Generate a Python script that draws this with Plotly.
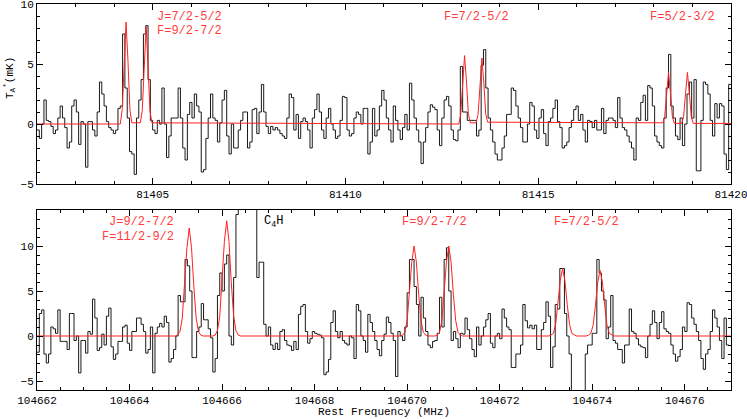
import plotly.graph_objects as go

# ---------------- data ----------------
# top spectrum (81402-81420 MHz), channel width 0.06 MHz
top_f0 = 81402.0
top_df = 0.06
top_vals = [
    -0.5, -1.2, 0, 2, 0.3, 0.2, -0.2, -0.8, -0.5, 0.5,
    1.5, 0.5, -0.3, -2, -1.5, 1.5, 2, 1, -1.7, 0.2,
    0, -3.6, 0.2, 0.2, -0.5, -1, 1, 3.5, 2.5, 1.5,
    0.2, -0.3, -0.5, -0.8, -0.5, 1.3, 1.5, 7.5, 3, 0.5,
    -2.3, -2.5, -4.2, 0.5, 2, 3.7, 7.5, 8.2, 3.7, 0.3,
    -0.5, -0.8, 0.3, 0, 3, 0, -2.8, -1, 0.5, 0.5,
    0.5, 3, 0.5, -2, -3, 0.8, 1.8, 0.5, 2.5, 1.5,
    1, -4, -3.8, -1.2, 0.5, 2.5, 0.5, 0.3, -1.5, 0.1,
    2, 2.8, -1, -2.5, 0, -2, -2, -0.5, 0.3, 1,
    1, -2, -1.5, 1.2, 1.3, -0.8, 1, 3.3, 1, -0.2,
    -0.8, -0.2, -0.5, -0.3, -0.5, -0.8, -1, -1.2, 0.5, 2.5,
    2.2, -0.5, 0.8, -1.2, 0.2, 0.5, 0.2, -0.5, -2, 0.5,
    1.2, 2.5, 1, -0.5, -1.2, 0.5, 1.3, 0, -0.5, -1.2,
    -1, 0.3, 2.3, 2.2, -0.5, -1, -0.8, 0.5, 1, 0.8,
    0, 1.3, 1.3, -2.5, -1.5, 1.3, -1, -0.5, 1.5, 2.8,
    2, 0.5, -0.5, -1.5, 1.5, 0.3, -0.5, -1.3, -0.3, 0.8,
    -0.5, 3.4, 2, 0.5, -0.5, -1.5, -3.3, -1.5, -0.3, 1,
    1.6, 1.4, 1.2, -0.5, -1.8, 0.5, 2, 2.3, 1.5, -0.5,
    -1.3, -1.4, -0.5, 4.8, 1, 1, 0.3, 0.3, 0.3, 0.3,
    -1, -0.5, 4.9, 6.2, 3, 0.5, -0.5, -1.5, -2.5, -3,
    -3, -2, -1, 0.8, 0.8, 3, 2.8, 1.5, 0.5, -0.3,
    -1.5, -1.5, 0, 1.8, 1.5, -0.5, -1.2, 0.5, 1.2, -0.8,
    -1.8, 0.2, 0.5, 1.3, 2, 0.2, -0.3, -2, -1.8, -1.5,
    -0.3, 0.3, 1.2, 1.5, 0.3, 0.8, -0.5, -1.5, 0.3, 0.2,
    -0.3, 0.3, -0.5, -0.5, 1.3, -0.8, 0.3, 0.5, 0.5, 0.3,
    -0.3, 2.2, 0.5, -0.3, -0.5, -1, -1.5, -2, -3, 0.5,
    0.3, 1.8, 2.4, 0.3, 3.2, 3, 1.5, -1, -1.5, -1.8,
    -2, 0.5, 3, 5.8, 1.5, 0.5, -1, -1.3, 0.5, -1.8,
    0, 2.5, 3.5, 0.5, 3.7, -3.9, -3.9, 0.3, 3.5, 3.3,
    2.5, 0.3, -1, 1.7, 0.5, 1.7, 1.5, -2.5, -3.8, 3.3,
]

# top model (red)
top_model_f = [
    81402.0, 81404.16, 81404.21, 81404.26, 81404.31, 81404.36, 81404.41, 81404.46,
    81404.68, 81404.73, 81404.78, 81404.83, 81404.88, 81404.93, 81404.98,
    81412.94, 81412.99, 81413.04, 81413.09, 81413.14, 81413.19, 81413.24,
    81413.39, 81413.44, 81413.49, 81413.54, 81413.59, 81413.64, 81413.69,
    81418.23, 81418.28, 81418.33, 81418.38, 81418.43, 81418.48, 81418.53,
    81418.72, 81418.77, 81418.82, 81418.87, 81418.92, 81418.97, 81419.02, 81420.0,
]
top_model_v = [
    0, 0.0, 1.2, 5.2, 8.5, 5.2, 1.2, 0.1,
    0.1, 1.1, 4.9, 8.1, 4.9, 1.1, 0.1,
    0.0, 0.8, 3.5, 5.7, 3.5, 0.8, 0.1,
    0.1, 0.8, 3.4, 5.5, 3.4, 0.8, 0.15,
    0.1, 0.6, 2.6, 4.3, 2.6, 0.6, 0.05,
    0.05, 0.6, 2.6, 4.3, 2.6, 0.6, 0.05, 0.05,
]

# bottom spectrum (104662-104677 MHz), channel width 0.05 MHz
bot_f0 = 104662.0
bot_df = 0.05
bot_vals = [
    -1.8, 2.5, 2.9, -2, -3, -2, 1, 0.8, 0.3, 2.9,
    -0.6, -0.6, -0.6, -1.5, 2.5, 2.5, -0.5, 0, -4.1, -0.5,
    -0.5, -1.9, 0.5, 0.2, 4.1, 2, -1.6, -1.3, 0.2, -1,
    2.2, 3.1, -1.2, -2.6, -2, -0.6, -0.6, 1, 1.2, -0.8,
    -1.6, 0.5, 0.5, 2, 2, 1.3, 0.5, -1.9, -1.5, 1,
    -4.1, 0.3, 1, 1.4, 1, 2.2, 1.5, -2.9, -2.5, -1.5,
    0, 4.5, 3.8, 3.8, 8.5, 7.8, 5, -2.4, -2.4, 0.5,
    1, 3.6, 1.8, 1.8, 0.8, -0.2, -4, -2.5, 4.5, 7,
    5, 8, 9, 0, -1, 6.5, 13.5, 20, 20, 20,
    20, 20, 20, 20, 20, 6.5, 8.2, 8.2, 1.3, 0,
    1, -1, -1.5, -0.8, -1.5, 0.5, 0.7, -0.5, -1, -1.1,
    -1.6, -0.6, -1.5, 2.4, 3.3, 3.5, 0.5, -0.8, -0.3, 0.5,
    0.3, 0.2, 0.1, -0.2, -4.3, -4, -2.6, 1.5, 2.8, 0.5,
    -0.2, 0.5, -0.5, -0.8, -1, 0, -0.2, -2.5, 3.5, 2.8,
    0, -0.5, -1.8, 2.4, 1.5, 0.5, -0.5, -1.5, -2.2, -0.5,
    0.2, 2.1, 1.5, 0.3, -0.5, -4.5, 0.5, 0, -0.5, 1,
    4.8, 8.5, 8.5, 5.5, 3.5, 0, 4.3, 2, 0.5, -1,
    -1.3, -0.6, -0.5, 0.3, 4.3, 1, 8.5, 9.8, 5, -0.5,
    0.5, -0.3, -1.3, 0.3, 0.2, 2, 0.7, -0.3, -1.5, -2.3,
    1, -1, 0, 1, 1.8, 2.5, -0.8, -1.3, 0, 0.3,
    -0.3, 3, 2, 1, 0.7, -3.5, -3.5, -2, -2, -1,
    3.5, 1.7, 0.9, 1.2, 0.8, 1.2, -1.5, -1.5, 0.7, 1.5,
    3.8, 2.2, -3.5, -1.2, 3.5, 3, 7.5, 7.5, 2.5, 0,
    -2, -7, -7, -7, -7, -7, -7, -2, -1, -1,
    0.3, 0.3, 8.5, 7, 5, 4, -0.3, 1, 4.5, -0.5,
    -0.8, -1.5, -1.5, -3, -1, -1, 3, 0.5, 0.3, -0.3,
    -1, -1.2, -1.3, -2.4, 0, 1.3, 2.8, 1.5, -0.3, 1.5,
    2.7, 0.8, 0.5, 0.3, -1, -2, -2.8, -2.3, -1.5, 1,
    0.5, 3.7, 3.5, 2, 1.3, 0.5, -0.5, -2.5, -3.7, -2,
    -1.5, 0.5, 2.9, 2, 1, -0.5, -2.5, 2, -1,
]

# bottom model (red)
bot_model_f = [
    104662.0,
    104664.99, 104665.04, 104665.09, 104665.14, 104665.19, 104665.24, 104665.29,
    104665.34, 104665.39, 104665.44, 104665.49, 104665.54, 104665.59,
    104665.80, 104665.85, 104665.90, 104665.95, 104666.00, 104666.05, 104666.10,
    104666.15, 104666.20, 104666.25, 104666.30, 104666.35, 104666.40,
    104669.85, 104669.90, 104669.95, 104670.00, 104670.05, 104670.10, 104670.15,
    104670.20, 104670.25, 104670.30, 104670.35, 104670.40, 104670.45,
    104670.60, 104670.65, 104670.70, 104670.75, 104670.80, 104670.85, 104670.90,
    104670.95, 104671.00, 104671.05, 104671.10, 104671.15, 104671.20,
    104673.06, 104673.11, 104673.16, 104673.21, 104673.26, 104673.31, 104673.36,
    104673.41, 104673.46, 104673.51, 104673.56, 104673.61, 104673.66,
    104673.87, 104673.92, 104673.97, 104674.02, 104674.07, 104674.12, 104674.17,
    104674.22, 104674.27, 104674.32, 104674.37, 104674.42, 104674.47,
    104677.0,
]
bot_model_v = [
    0,
    0, 0.1, 0.5, 2.0, 5.5, 9.8, 12.0, 9.8, 5.5, 2.0, 0.5, 0.1, 0,
    0, 0.1, 0.6, 2.2, 5.9, 10.5, 12.8, 10.5, 5.9, 2.2, 0.6, 0.1, 0,
    0, 0.1, 0.4, 1.7, 4.6, 8.2, 10.0, 8.2, 4.6, 1.7, 0.4, 0.1, 0,
    0, 0.1, 0.4, 1.7, 4.6, 8.2, 10.0, 8.2, 4.6, 1.7, 0.4, 0.1, 0,
    0, 0.1, 0.3, 1.3, 3.5, 6.2, 7.5, 6.2, 3.5, 1.3, 0.3, 0.1, 0,
    0, 0.1, 0.3, 1.2, 3.4, 6.0, 7.3, 6.0, 3.4, 1.2, 0.3, 0.1, 0,
    0,
]

top_xrange = [81402, 81420.0005]
top_yrange = [-5, 10.0005]
bot_xrange = [104662, 104677]
bot_yrange = [-6, 14]

top_labels = [("J=7/2-5/2", 155, 17, "left"), ("F=9/2-7/2", 155, 31, "left"),
              ("F=7/2-5/2", 442, 17, "left"), ("F=5/2-3/2", 648, 17, "left")]
bot_labels = [("J=9/2-7/2", 176, 222, "right"), ("F=11/2-9/2", 176, 237, "right"),
              ("F=9/2-7/2", 400, 222, "left"), ("F=7/2-5/2", 552, 222, "left")]

# ---------------- figure ----------------
W, H = 747, 419
ML, MR, MT, MB = 37, 16, 4, 29
PW, PH = W - ML - MR, H - MT - MB


def px_x(x):
    return (x - ML) / PW


def px_y(y):
    return (H - MB - y) / PH


def steps(f0, df, vals):
    xs = [f0 + i * df for i in range(len(vals))] + [f0 + len(vals) * df]
    ys = list(vals) + [vals[-1]]
    return xs, ys


BLACK = "#1a1a1a"
RED = "#ff2020"
TXTRED = "#ff3c3c"
FONT = "Liberation Mono"

fig = go.Figure()
tx, ty = steps(top_f0, top_df, top_vals)
fig.add_trace(go.Scatter(x=tx, y=ty, mode="lines", line=dict(color=BLACK, width=1, shape="hv"),
                         xaxis="x", yaxis="y", hoverinfo="skip"))
fig.add_trace(go.Scatter(x=top_model_f, y=top_model_v, mode="lines", line=dict(color=RED, width=1),
                         xaxis="x", yaxis="y", hoverinfo="skip"))
bx, by = steps(bot_f0, bot_df, bot_vals)
fig.add_trace(go.Scatter(x=bx, y=by, mode="lines", line=dict(color=BLACK, width=1, shape="hv"),
                         xaxis="x2", yaxis="y2", hoverinfo="skip"))
fig.add_trace(go.Scatter(x=bot_model_f, y=bot_model_v, mode="lines", line=dict(color=RED, width=1),
                         xaxis="x2", yaxis="y2", hoverinfo="skip"))

axis_common = dict(showline=True, linecolor="black", linewidth=1, mirror="allticks",
                   ticks="inside", ticklen=6, tickcolor="black", showgrid=False, zeroline=False,
                   automargin=False, tickformat="d", ticklabeloverflow="allow",
                   tickfont=dict(family=FONT, size=11, color="black"))

top_bottom_px = 184
bot_top_px = 210

fig.update_layout(
    width=W, height=H, margin=dict(l=ML, r=MR, t=MT, b=MB, autoexpand=False),
    paper_bgcolor="white", plot_bgcolor="white", showlegend=False,
    xaxis=dict(domain=[0, 1], range=top_xrange, anchor="y", dtick=5, tick0=81400,
               minor=dict(dtick=1, ticks="inside", ticklen=3, tickcolor="black"), **axis_common),
    yaxis=dict(domain=[px_y(top_bottom_px), 1], range=top_yrange, anchor="x", dtick=5, tick0=0,
               minor=dict(dtick=1, ticks="inside", ticklen=3, tickcolor="black"), **axis_common),
    xaxis2=dict(domain=[0, 1], range=bot_xrange, anchor="y2", dtick=2, tick0=104662,
                minor=dict(dtick=0.5, ticks="inside", ticklen=3, tickcolor="black"), **axis_common),
    yaxis2=dict(domain=[0, px_y(bot_top_px)], range=bot_yrange, anchor="x2", dtick=5, tick0=0,
                minor=dict(dtick=1, ticks="inside", ticklen=3, tickcolor="black"), **axis_common),
)

ann = []
for text, x, y, al in top_labels + bot_labels:
    ann.append(dict(text=text, xref="paper", yref="paper", x=px_x(x), y=px_y(y),
                    xanchor=al, yanchor="middle", showarrow=False,
                    font=dict(family=FONT, size=12, color=TXTRED)))
ann.append(dict(text="C<sub>4</sub>H", xref="paper", yref="paper", x=px_x(262), y=px_y(222),
                xanchor="left", yanchor="middle", showarrow=False,
                font=dict(family=FONT, size=12, color="black")))
ann.append(dict(text="T<sub>A</sub><sup>*</sup>(mK)", xref="paper", yref="paper",
                x=px_x(9), y=px_y(78), xanchor="center", yanchor="middle", textangle=-90,
                showarrow=False, font=dict(family=FONT, size=11, color="black")))
ann.append(dict(text="Rest Frequency (MHz)", xref="paper", yref="paper",
                x=px_x(384), y=px_y(412), xanchor="center", yanchor="middle",
                showarrow=False, font=dict(family=FONT, size=11, color="black")))
fig.update_layout(annotations=ann)

fig.write_html("out.html", config={"displayModeBar": False},
               post_script="document.body.style.margin='0';document.body.style.overflow='hidden';")
